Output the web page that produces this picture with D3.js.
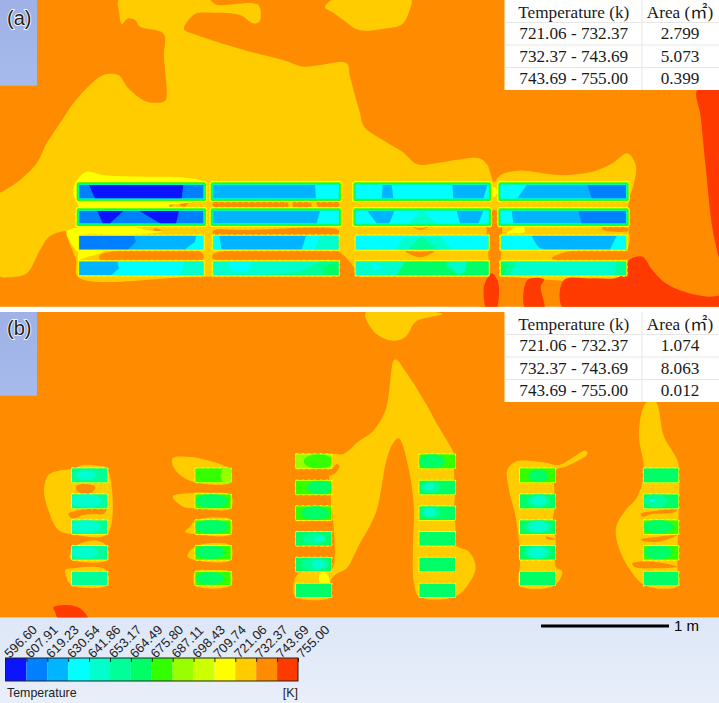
<!DOCTYPE html>
<html>
<head>
<meta charset="utf-8">
<script src="https://cdn.jsdelivr.net/npm/d3@7"></script>
<style>
html,body{margin:0;padding:0;background:#fff}
svg{display:block}
</style>
</head>
<body>
<svg id="chart" width="719" height="703"></svg>
<script>
// Temperature bands of the contour plot (K)
const levels = [596.60,607.91,619.23,630.54,641.86,653.17,664.49,675.80,687.11,698.43,709.74,721.06,732.37,743.69,755.00];
const bandColors = ["#0a14ff","#0080ff","#00b4ff","#00ffff","#00ffcc","#00ff99","#00ff66","#33ff00","#99ff00","#ccff00","#ffff00","#ffcc00","#ff8c00","#ff3a00"];

// Area summary tables
const tableHeader = ["Temperature (k)","Area (㎡)"];
const tableRanges = ["721.06 - 732.37","732.37 - 743.69","743.69 - 755.00"];
const areasA = ["2.799","5.073","0.399"];
const areasB = ["1.074","8.063","0.012"];

// Contour outlines in mesh units, as [band, points]; 3 mesh units = 1 screen pixel
const contoursA = [
 [11,[[0,578],[60,540],[110,490],[140,430],[180,370],[220,310],[270,255],[310,225],[355,225],[385,265],[440,305],[495,303],[500,285],[492,170],[490,100],[420,80],[405,60],[385,55],[365,72],[358,40],[358,-5],[620,-5],[650,14],[775,15],[778,65],[760,70],[720,45],[640,38],[590,40],[570,55],[552,88],[590,105],[650,125],[750,155],[850,180],[910,200],[960,195],[1040,190],[1050,230],[1080,340],[1092,380],[1157,425],[1207,455],[1252,493],[1307,490],[1367,480],[1437,475],[1462,495],[1482,545],[1502,525],[1557,512],[1677,525],[1777,515],[1837,490],[1882,460],[1907,495],[1902,550],[1887,600],[1885,680],[1889,720],[1880,760],[1880,828],[1507,830],[1470,830],[1040,830],[600,830],[235,832],[228,780],[205,720],[200,695],[150,708],[120,750],[80,820],[30,832],[-5,825],[-5,578]]],
 [11,[[975,22],[1005,-5],[1232,-5],[1227,35],[1207,72],[1162,85],[1077,90],[1030,60],[1000,38]]],
 [12,[[1467,635],[1497,635],[1500,830],[1495,930],[1440,930],[1465,830]]],
 [12,[[1000,750],[1030,765],[1060,800],[1075,832],[1000,832]]],
 [12,[[505,605],[525,610],[510,620]]],
 [12,[[550,600],[565,605],[555,620],[540,615]]],
 [12,[[465,685],[490,695],[460,692]]],
 [12,[[300,765],[600,754],[610,776],[300,778]]],
 [12,[[640,604],[860,606],[865,622],[640,620]]],
 [12,[[880,606],[930,606],[935,620],[880,621]]],
 [12,[[950,604],[1015,602],[1015,621],[955,621]]],
 [12,[[640,692],[740,690],[1015,690],[1015,702],[640,705]]],
 [12,[[640,762],[1000,756],[1030,780],[1000,780],[640,778]]],
 [12,[[1235,678],[1260,685],[1290,678],[1260,690]]],
 [12,[[1215,753],[1260,755],[1305,753],[1260,772]]],
 [12,[[1655,775],[1700,755],[1880,750],[1890,785],[1670,782]]],
 [12,[[1805,680],[1880,682],[1885,692],[1810,690]]],
 [12,[[1685,600],[1750,602],[1690,606]]],
 [10,[[220,570],[235,535],[260,515],[310,525],[420,530],[540,532],[610,545],[620,560],[610,595],[230,600]]],
 [10,[[235,600],[500,600],[505,625],[240,625]]],
 [10,[[200,695],[240,680],[380,675],[440,690],[490,695],[380,705],[240,710],[235,755],[210,725]]],
 [10,[[240,750],[310,755],[260,772],[235,780]]],
 [10,[[1520,700],[1565,675],[1575,695],[1540,700]]],
 [10,[[1482,560],[1492,575],[1482,592],[1472,575]]],
 [13,[[2092,270],[2165,270],[2165,790],[2140,700],[2117,500],[2102,350]]],
 [13,[[1692,930],[1692,840],[1777,835],[1857,830],[1887,780],[1927,770],[1957,810],[1997,850],[2067,880],[2127,890],[2165,890],[2165,930]]],
 [13,[[1452,860],[1475,820],[1492,840],[1497,870],[1487,930],[1462,930]]],
 [13,[[1577,930],[1582,840],[1632,838],[1622,860],[1632,930]]]
];

const contoursB = [
 [11,[[322,475],[300,468],[250,465],[216,477],[175,482],[145,495],[132,540],[145,600],[175,660],[216,672],[322,672]]],
 [12,[[228,530],[250,522],[285,530],[275,548],[235,547]]],
 [12,[[205,612],[240,600],[320,598],[310,612],[280,612],[250,615],[215,625]]],
 [11,[[216,720],[230,705],[290,692],[320,708],[322,750],[216,750],[208,740]]],
 [11,[[196,780],[220,775],[300,772],[322,785],[322,826],[216,826],[200,805]]],
 [11,[[518,445],[560,440],[620,450],[680,470],[692,478],[692,517],[586,517],[540,495],[518,465]]],
 [11,[[518,560],[560,550],[630,548],[692,555],[692,595],[586,595],[550,590]]],
 [11,[[556,665],[570,650],[586,632],[650,622],[692,630],[692,672],[586,672]]],
 [11,[[562,738],[585,710],[650,698],[692,708],[692,750],[586,750]]],
 [11,[[586,785],[640,780],[692,787],[692,826],[586,826]]],
 [11,[[994,435],[994,780],[930,783],[895,790],[880,830],[888,861],[994,861],[990,815],[1005,795],[1040,775],[1060,740],[1077,705],[1127,610],[1162,440],[1182,395],[1197,385],[1227,480],[1242,600],[1239,700],[1242,820],[1258,860],[1365,860],[1407,820],[1427,770],[1407,725],[1367,705],[1367,660],[1362,600],[1365,550],[1362,480],[1365,440],[1357,420],[1307,335],[1277,280],[1217,185],[1185,148],[1157,300],[1117,365],[1077,393],[1030,432]]],
 [11,[[1097,8],[1327,12],[1247,35],[1217,80],[1177,92],[1127,70]]],
 [11,[[1522,480],[1547,455],[1637,458],[1677,465],[1757,422],[1762,432],[1697,470],[1667,480],[1665,590],[1659,625],[1667,690],[1667,770],[1687,785],[1662,827],[1560,827],[1560,760],[1557,700],[1547,620],[1527,540]]],
 [11,[[1942,275],[1967,275],[1992,380],[2032,450],[2037,480],[2035,640],[2032,770],[2035,827],[1937,827],[1887,775],[1852,700],[1849,650],[1877,600],[1912,560],[1932,480],[1917,380],[1927,300]]],
 [12,[[888,478],[994,476],[1010,462],[1018,468],[1005,490],[960,505],[888,510]]],
 [12,[[888,555],[960,558],[990,567],[965,580],[888,588]]],
 [12,[[888,632],[950,635],[988,648],[960,660],[888,665]]],
 [12,[[1637,680],[1667,688],[1640,686]]],
 [12,[[1922,612],[1957,604],[2032,600],[2017,608],[1957,612],[1927,620]]],
 [12,[[1922,688],[1977,680],[2032,675],[1977,695],[1927,692]]],
 [12,[[1897,760],[1957,755],[2032,770],[1957,775],[1902,770]]],
 [10,[[960,790],[975,785],[990,820],[960,820]]],
 [13,[[160,892],[200,885],[240,895],[265,930],[178,930],[165,905]]]
];

// Tube bundles in mesh units: rows, columns and per-tube base band with inner cells
const rowsA = [[555,595],[633,670],[708,748],[785,825]];
const colsA = [[238,610],[640,1015],[1068,1465],[1503,1878]];
const fringeRowsA = [2,2,1,1];
const cellsA = [
 [[1,[[0,[[267,555],[550,555],[545,595],[285,595]]]]],
  [1,[[0,[[292,633],[370,633],[330,670],[308,670]]],[0,[[418,633],[537,633],[528,670],[480,670]]]]],
  [3,[[2,[[238,708],[588,708],[585,725],[555,748],[238,748]]],[1,[[238,708],[402,708],[408,725],[385,748],[238,748]]]]],
  [3,[[2,[[238,785],[352,785],[357,805],[335,825],[238,825]]],[4,[[555,785],[610,785],[610,825],[540,825]]]]]],
 [[3,[[2,[[640,555],[945,555],[948,595],[640,595]]]]],
  [3,[[2,[[640,633],[960,633],[950,670],[640,670]]]]],
  [3,[[2,[[658,708],[918,708],[905,748],[665,748]]],[4,[[960,708],[1015,708],[1015,748],[945,748]]]]],
  [4,[[3,[[680,785],[760,785],[740,815],[700,815]]],[5,[[790,825],[900,815],[960,785],[1015,785],[1015,825]]],[6,[[970,800],[1015,785],[1015,825],[970,825]]]]]],
 [[3,[[2,[[1148,555],[1175,555],[1180,595],[1145,595]]],[2,[[1357,555],[1462,555],[1450,595],[1360,595]]]]],
  [3,[[2,[[1102,633],[1183,633],[1168,670],[1130,670]]],[2,[[1370,633],[1450,633],[1435,670],[1380,670]]],[4,[[1225,670],[1265,630],[1310,670]]]]],
  [3,[[4,[[1185,748],[1210,715],[1320,708],[1355,748]]],[5,[[1225,748],[1265,708],[1310,748]]]]],
  [5,[[4,[[1068,785],[1210,785],[1215,810],[1185,825],[1068,825]]],[3,[[1115,785],[1150,805],[1120,810]]],[6,[[1215,785],[1335,785],[1345,805],[1375,825],[1190,825]]],[6,[[1405,785],[1465,785],[1465,825],[1385,825]]],[4,[[1340,790],[1400,785],[1395,815],[1375,822]]]]]],
 [[3,[[2,[[1552,595],[1580,555],[1878,555],[1878,595]]],[1,[[1762,555],[1878,555],[1878,595],[1775,595]]]]],
  [3,[[2,[[1535,633],[1878,633],[1878,670],[1540,670]]],[1,[[1735,633],[1878,633],[1878,670],[1745,670]]]]],
  [3,[[2,[[1595,708],[1850,708],[1830,748],[1635,748],[1620,745],[1610,735]]]]],
  [4,[[5,[[1503,785],[1550,785],[1530,825],[1503,825]]],[6,[[1503,790],[1525,790],[1510,825],[1503,825]]],[5,[[1850,785],[1878,785],[1878,825],[1845,825]]]]]]
];

// Panel (b) tube banks: five or six rows per column, with warmer and cooler cores
const rowsFive = [[475,517],[553,595],[631,672],[708,749],[785,826]];
const rowsSix = [[433,475],[512,553],[589,630],[666,707],[743,784],[821,861]];
const columnsB = [
 {x:[216,322], rows:rowsFive, cells:[
   [5,[[4,258,495,30,15]]],[5,[[4,258,573,48,20]]],[5,[[4,258,650,45,20]]],[5,[[4,255,727,40,18]]],[5,[]]]},
 {x:[586,692], rows:rowsFive, cells:[
   [7,[[8,690,496,28,32]]],[7,[[6,635,573,48,21]]],[7,[[6,635,650,50,21]]],[7,[[6,630,727,45,20]]],[7,[[6,630,805,42,19]]]]},
 {x:[888,994], rows:rowsSix, cells:[
   [8,[[7,955,454,44,22]]],[7,[[6,958,532,36,21]]],[7,[[6,945,609,42,21]]],[6,[[5,942,686,35,18],[4,958,686,16,9]]],[6,[[5,945,763,42,20],[4,955,763,20,14]]],[6,[]]]},
 {x:[1258,1365], rows:rowsSix, cells:[
   [7,[[6,1295,454,40,22]]],[6,[[5,1292,532,30,18],[4,1288,530,14,10]]],[6,[[5,1292,607,30,18],[4,1289,607,18,13]]],[6,[]],[6,[]],[6,[]]]},
 {x:[1560,1665], rows:rowsFive, cells:[
   [7,[[6,1615,497,30,18]]],[6,[[5,1615,572,35,20],[4,1617,572,22,14]]],[6,[[5,1615,650,40,20],[4,1615,650,30,17]]],[6,[[5,1612,727,40,20],[4,1612,727,30,17]]],[6,[]]]},
 {x:[1931,2035], rows:rowsFive, cells:[
   [6,[]],[6,[[5,1967,573,36,20],[3,1957,572,8,5]]],[7,[[6,1975,650,44,21]]],[7,[[6,1975,727,42,21]]],[6,[]]]}
];

// Colour bar and scale bar
const barTitle = "Temperature";
const barUnit = "[K]";
const scaleBarLabel = "1 m";
const scaleBarLength = 1;

const svg = d3.select("#chart");
const mesh = d3.scaleLinear().domain([0,2157]).range([0,719]);
const meshA = d3.scaleLinear().domain([0,930]).range([0,310]);
const meshB = d3.scaleLinear().domain([0,930]).range([310,620]);
const metres = d3.scaleLinear().domain([0,1]).range([0,128]);
const tempColor = d3.scaleThreshold().domain(levels.slice(1,-1)).range(bandColors);
const bandFill = b => tempColor((levels[b]+levels[b+1])/2);

const defs = svg.append("defs");
defs.append("clipPath").attr("id","clipA").append("rect").attr("x",0).attr("y",0).attr("width",719).attr("height",306.7);
defs.append("clipPath").attr("id","clipB").append("rect").attr("x",0).attr("y",312).attr("width",719).attr("height",305.6);
const boxGrad = defs.append("linearGradient").attr("id","boxFill").attr("x1",0).attr("y1",0).attr("x2",0).attr("y2",1);
boxGrad.append("stop").attr("offset",0).attr("stop-color","#9fb1e6");
boxGrad.append("stop").attr("offset",1).attr("stop-color","#a6bbec");
const footGrad = defs.append("linearGradient").attr("id","footFill").attr("x1",0).attr("y1",0).attr("x2",0).attr("y2",1);
footGrad.append("stop").attr("offset",0).attr("stop-color","#dde7f7");
footGrad.append("stop").attr("offset",1).attr("stop-color","#e9effa");

svg.append("rect").attr("width",719).attr("height",703).attr("fill","#fff");
svg.append("rect").attr("y",meshB(924)).attr("width",719).attr("height",703-meshB(924)).attr("fill","url(#footFill)");

function drawPanel(id, yScale, contours, drawTubes) {
  const g = svg.append("g").attr("clip-path",`url(#${id})`);
  g.append("rect").attr("width",719).attr("height",703).attr("fill",bandFill(12));
  const smooth = d3.line().x(p => mesh(p[0])).y(p => yScale(p[1])).curve(d3.curveCatmullRomClosed.alpha(0.5));
  g.selectAll("path.contour").data(contours).join("path")
    .attr("class","contour")
    .attr("d",d => smooth(d[1]))
    .attr("fill",d => bandFill(d[0]));
  drawTubes(g, yScale);
}

function tubeFringe(g, yScale, x0, x1, y0, y1, layers) {
  layers.forEach(([pad,band],i) => {
    const r = g.append("rect")
      .attr("x",mesh(x0-pad)).attr("y",yScale(y0-pad))
      .attr("width",mesh(x1+pad)-mesh(x0-pad)).attr("height",yScale(y1+pad)-yScale(y0-pad))
      .attr("rx",mesh(pad)*0.7)
      .attr("fill",bandFill(band));
    if (i === 0) r.attr("stroke",bandFill(band)).attr("stroke-width",0.9).attr("stroke-dasharray","2 4");
  });
}

const fringeLayers = {
  2:[[11,10],[8,7],[5,6],[2,4]],
  1:[[4,10],[2,8]],
  0:[[2,10]]
};

function tubesA(g, yScale) {
  const poly = d3.line().x(p => mesh(p[0])).y(p => yScale(p[1]));
  colsA.forEach((col,c) => rowsA.forEach((row,r) => {
    const [base,cells] = cellsA[c][r];
    tubeFringe(g,yScale,col[0],col[1],row[0],row[1],fringeLayers[fringeRowsA[r]]);
    g.append("rect").attr("x",mesh(col[0])).attr("y",yScale(row[0]))
      .attr("width",mesh(col[1])-mesh(col[0])).attr("height",yScale(row[1])-yScale(row[0]))
      .attr("fill",bandFill(base));
    cells.forEach(([band,pts]) => g.append("path").attr("d",poly(pts)+"Z").attr("fill",bandFill(band)));
  }));
}

function tubesB(g, yScale) {
  columnsB.forEach((col,c) => col.rows.forEach((row,r) => {
    const [base,cores] = col.cells[r];
    const clipId = `tb${c}_${r}`;
    defs.append("clipPath").attr("id",clipId).append("rect")
      .attr("x",mesh(col.x[0])).attr("y",yScale(row[0]))
      .attr("width",mesh(col.x[1])-mesh(col.x[0])).attr("height",yScale(row[1])-yScale(row[0]));
    tubeFringe(g,yScale,col.x[0],col.x[1],row[0],row[1],fringeLayers[0]);
    g.append("rect").attr("x",mesh(col.x[0])).attr("y",yScale(row[0]))
      .attr("width",mesh(col.x[1])-mesh(col.x[0])).attr("height",yScale(row[1])-yScale(row[0]))
      .attr("fill",bandFill(base));
    const inner = g.append("g").attr("clip-path",`url(#${clipId})`);
    cores.forEach(([band,cx,cy,rx,ry]) => inner.append("ellipse")
      .attr("cx",mesh(cx)).attr("cy",yScale(cy)).attr("rx",mesh(rx)).attr("ry",yScale(ry)-yScale(0))
      .attr("fill",bandFill(band)));
  }));
}

drawPanel("clipA",meshA,contoursA,tubesA);
drawPanel("clipB",meshB,contoursB,tubesB);

// Panel labels on their tinted corner boxes
function cornerBox(label, yScale, inset) {
  svg.append("rect").attr("x",0).attr("y",yScale(0)+inset)
    .attr("width",mesh(111)).attr("height",mesh(257)-inset).attr("fill","url(#boxFill)");
  svg.append("text").attr("x",7).attr("y",yScale(74))
    .attr("font-family","'Liberation Sans',Arial,sans-serif").attr("font-size",20)
    .attr("fill","#222").attr("stroke","#fff").attr("stroke-width",1.6)
    .attr("paint-order","stroke").text(label);
}
cornerBox("(a)",meshA,0);
cornerBox("(b)",meshB,2);

// Area tables in the upper right of each panel
function areaTable(top, areas) {
  const tx0 = 504.5, tx1 = 719, split = 642, rowY = d3.scaleLinear().domain([0,4]).range([top,top+90]);
  const g = svg.append("g");
  g.append("rect").attr("x",tx0).attr("y",top).attr("width",tx1-tx0).attr("height",90).attr("fill","#fff");
  d3.range(1,4).forEach(i => g.append("line").attr("x1",tx0).attr("x2",tx1).attr("y1",rowY(i)).attr("y2",rowY(i)).attr("stroke","#e6e6e6").attr("stroke-width",1));
  g.append("line").attr("x1",split).attr("x2",split).attr("y1",top).attr("y2",top+90).attr("stroke","#e6e6e6");
  const rows = [tableHeader].concat(tableRanges.map((d,i) => [d,areas[i]]));
  rows.forEach((row,i) => {
    const y = rowY(i)+16.5+(i===0?1:0);
    g.append("text").attr("x",(tx0+split)/2+0.5).attr("y",y).attr("text-anchor","middle")
      .attr("font-family","'Liberation Serif','Times New Roman',serif").attr("font-size",17.2).attr("fill","#1a1a1a").text(row[0]);
    g.append("text").attr("x",(split+tx1)/2-0.5).attr("y",y).attr("text-anchor","middle")
      .attr("font-family","'Liberation Serif','Noto Sans CJK SC',serif").attr("font-size",17.2).attr("fill","#1a1a1a").text(row[1]);
  });
}
areaTable(0,areasA);
areaTable(312,areasB);

// Colour bar with its rotated level labels
const barScale = d3.scaleLinear().domain([levels[0],levels[14]]).range([5.5,298]);
const barTop = 658, barH = 23;
const barG = svg.append("g");
barG.selectAll("rect.band").data(bandColors).join("rect").attr("class","band")
  .attr("x",(d,i) => barScale(levels[i]))
  .attr("y",barTop)
  .attr("width",(d,i) => barScale(levels[i+1])-barScale(levels[i]))
  .attr("height",barH)
  .attr("fill",(d,i) => bandFill(i));
barG.append("rect").attr("x",barScale(levels[0])).attr("y",barTop)
  .attr("width",barScale(levels[14])-barScale(levels[0])).attr("height",barH)
  .attr("fill","none").attr("stroke","#222").attr("stroke-width",1);
const axis = d3.axisTop(barScale).tickValues(levels).tickFormat(d => d.toFixed(2)).tickSize(-4).tickPadding(0);
const axisG = barG.append("g").attr("transform",`translate(0,${barTop})`).call(axis);
axisG.select(".domain").remove();
axisG.selectAll("line").attr("stroke","#222");
axisG.selectAll("text")
  .attr("text-anchor","start")
  .attr("font-family","'Liberation Sans',Arial,sans-serif").attr("font-size",13).attr("fill","#222")
  .attr("transform","translate(1,-2) rotate(-45)")
  .attr("x",0).attr("y",0).attr("dy","0.3em");
svg.append("text").attr("x",7).attr("y",697).attr("font-family","'Liberation Sans',Arial,sans-serif").attr("font-size",12.4).attr("fill","#222").text(barTitle);
svg.append("text").attr("x",298).attr("y",697).attr("text-anchor","end").attr("font-family","'Liberation Sans',Arial,sans-serif").attr("font-size",12.4).attr("fill","#222").text(barUnit);

// Length scale
const sbX = 541;
svg.append("line").attr("x1",sbX).attr("x2",sbX+metres(scaleBarLength)).attr("y1",626).attr("y2",626).attr("stroke","#000").attr("stroke-width",3);
svg.append("text").attr("x",sbX+metres(scaleBarLength)+5).attr("y",631).attr("font-family","'Liberation Sans',Arial,sans-serif").attr("font-size",15).attr("fill","#000").text(scaleBarLabel);
</script>
</body>
</html>
